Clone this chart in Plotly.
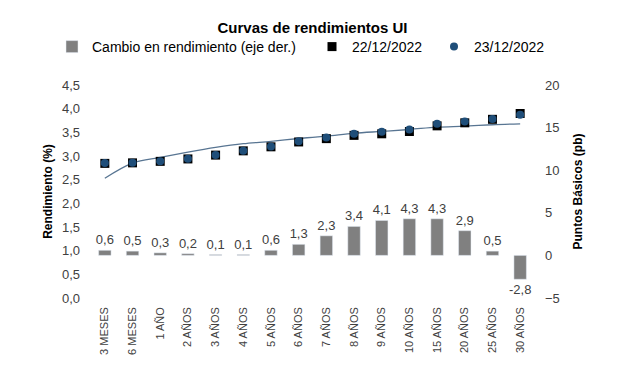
import plotly.graph_objects as go

categories = ["3 MESES", "6 MESES", "1 AÑO", "2 AÑOS", "3 AÑOS", "4 AÑOS", "5 AÑOS",
              "6 AÑOS", "7 AÑOS", "8 AÑOS", "9 AÑOS", "10 AÑOS", "15 AÑOS",
              "20 AÑOS", "25 AÑOS", "30 AÑOS"]
cambio_pb = [0.6, 0.5, 0.3, 0.2, 0.1, 0.1, 0.6, 1.3, 2.3, 3.4, 4.1, 4.3, 4.3, 2.9, 0.5, -2.8]
rend_23 = [2.85, 2.86, 2.89, 2.94, 3.02, 3.11, 3.20, 3.31, 3.39, 3.47, 3.51, 3.56,
           3.68, 3.73, 3.78, 3.87]
rend_22 = [2.844, 2.855, 2.887, 2.938, 3.019, 3.109, 3.194, 3.297, 3.367, 3.436,
           3.469, 3.517, 3.637, 3.701, 3.775, 3.898]
tendencia = [2.53, 2.85, 2.97, 3.08, 3.18, 3.26, 3.31, 3.37, 3.42, 3.48, 3.52, 3.56,
             3.61, 3.63, 3.66, 3.68]

FONT = "Liberation Sans, Arial, sans-serif"
TXT = "#404040"
W, H = 609, 369  # page body has an 8px margin

fig = go.Figure()
fig.add_trace(go.Bar(
    x=categories, y=cambio_pb, yaxis="y2", name="Cambio en rendimiento (eje der.)",
    marker=dict(color="#808080"), width=0.45, legend="legend",
    text=cambio_pb, texttemplate="%{y:.1f}", textposition="outside", constraintext="none",
    textfont=dict(size=13, color=TXT, family=FONT), cliponaxis=False,
))
fig.add_trace(go.Scatter(
    x=categories, y=tendencia, mode="lines", line=dict(color="#587592", width=1.3, shape="spline"),
    showlegend=False, hoverinfo="skip",
))
fig.add_trace(go.Scatter(
    x=categories, y=rend_22, mode="markers", name="22/12/2022", legend="legend2",
    marker=dict(symbol="square", color="#000000", size=9),
))
fig.add_trace(go.Scatter(
    x=categories, y=rend_23, mode="markers", name="23/12/2022", legend="legend3",
    marker=dict(symbol="circle", color="#1F4E79", size=8),
))

leg_common = dict(orientation="h", y=1 - 39 / H, yref="container", yanchor="middle",
                  xref="container", xanchor="left",
                  font=dict(size=14, color="#000000", family=FONT),
                  itemwidth=30, bgcolor="rgba(0,0,0,0)")

fig.update_layout(
    width=W, height=H,
    separators=",.",
    paper_bgcolor="white", plot_bgcolor="white",
    font=dict(family=FONT, size=13, color=TXT),
    margin=dict(l=83, r=83, t=77, b=79),
    title=dict(text="<b>Curvas de rendimientos UI</b>", x=0.5, xanchor="center",
               y=1 - 19.5 / H, yanchor="middle", font=dict(size=15, color="#000000", family=FONT)),
    legend=dict(x=44 / W, **leg_common),
    legend2=dict(x=304 / W, **leg_common),
    legend3=dict(x=426 / W, **leg_common),
    xaxis=dict(range=[-0.5, len(categories) - 0.5], tickangle=-90, ticklabelstandoff=6,
               tickfont=dict(size=11, color=TXT), showgrid=False, showline=False, ticks=""),
    yaxis=dict(range=[0, 4.5], dtick=0.5, tickformat=".1f", showgrid=False, zeroline=False,
               ticklabelstandoff=10,
               title=dict(text="<b>Rendimiento (%)</b>", font=dict(size=12, color="#000000"), standoff=6),
               tickfont=dict(size=13, color=TXT)),
    yaxis2=dict(range=[-5, 20], dtick=5, overlaying="y", side="right", showgrid=False,
                zeroline=False, ticklabelstandoff=10,
                title=dict(text="<b>Puntos Básicos (pb)</b>", font=dict(size=12, color="#000000"), standoff=14),
                tickfont=dict(size=13, color=TXT)),
)

fig.write_html("out.html")
